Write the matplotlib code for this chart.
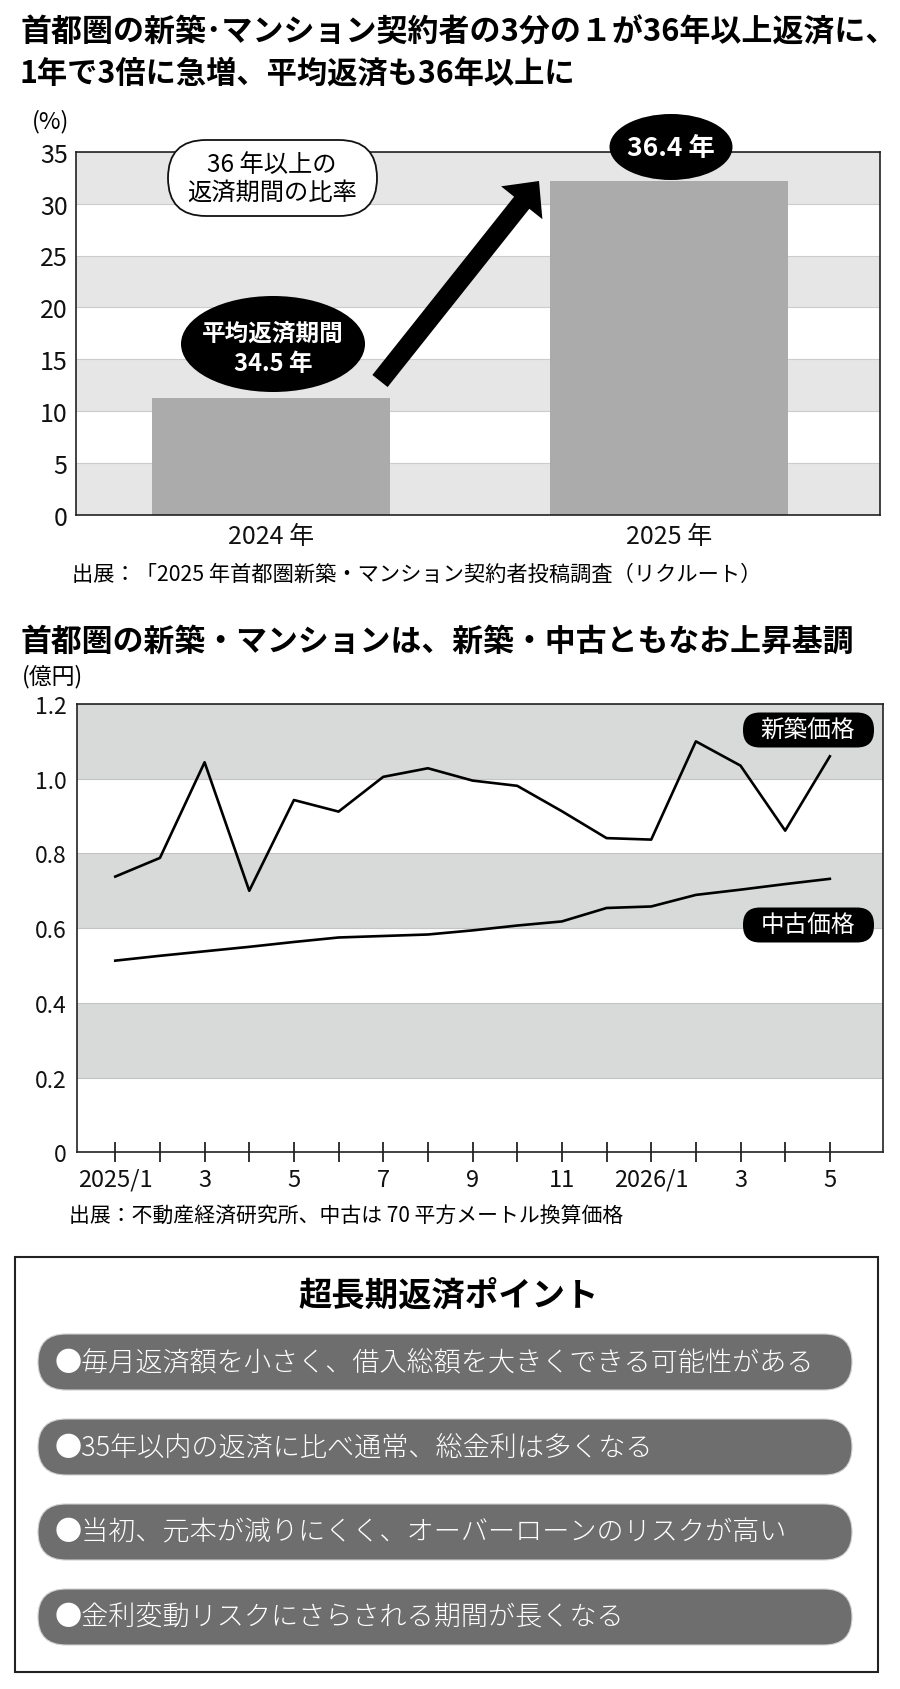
import matplotlib
matplotlib.use("Agg")
import matplotlib.pyplot as plt
from matplotlib.patches import Ellipse, FancyBboxPatch, FancyArrowPatch, Rectangle
from matplotlib.ticker import FuncFormatter

plt.rcParams['font.family'] = ['Noto Sans CJK JP', 'DejaVu Sans']

# --- data -------------------------------------------------------------
bar_years = ['2024 年', '2025 年']
bar_share = [11.3, 32.2]          # 36年以上の返済期間の比率 (%)
avg_years = [34.5, 36.4]          # 平均返済期間

months = list(range(1, 18))
month_labels = ['2025/1', '', '3', '', '5', '', '7', '', '9', '', '11', '',
                '2026/1', '', '3', '', '5']
new_price = [0.738, 0.788, 1.044, 0.700, 0.943, 0.912, 1.005, 1.028, 0.995,
             0.981, 0.913, 0.841, 0.837, 1.100, 1.035, 0.861, 1.060]
used_price = [0.513, 0.526, 0.538, 0.550, 0.563, 0.575, 0.579, 0.583, 0.594,
              0.607, 0.618, 0.654, 0.658, 0.689, 0.703, 0.718, 0.732]

points = ['●毎月返済額を小さく、借入総額を大きくできる可能性がある',
          '●35年以内の返済に比べ通常、総金利は多くなる',
          '●当初、元本が減りにくく、オーバーローンのリスクが高い',
          '●金利変動リスクにさらされる期間が長くなる']

W, H = 900, 1690
fig = plt.figure(figsize=(W / 100, H / 100), dpi=100)
fig.patch.set_facecolor('white')


def frac(left, top, right, bottom):
    return [left / W, 1 - bottom / H, (right - left) / W, (bottom - top) / H]


# --- bar chart ----------------------------------------------------------
ax1 = fig.add_axes(frac(76, 152.7, 880, 516))
for lo in range(0, 35, 10):
    ax1.axhspan(lo, lo + 5, color='#e6e6e6', zorder=0, lw=0)
ax1.set_axisbelow(True)
ax1.yaxis.grid(True, color='#cccccc', lw=0.8)
ax1.bar(range(len(bar_years)), bar_share, width=0.6, color='#aaabaa', zorder=2)
ax1.set_xlim(-0.49, 1.53)
ax1.set_ylim(0, 35)
ax1.set_yticks(range(0, 36, 5))
ax1.set_xticks(range(len(bar_years)))
ax1.set_xticklabels(bar_years)
ax1.tick_params(axis='both', length=0, labelsize=18, colors='#111111')
ax1.tick_params(axis='y', pad=6)
ax1.tick_params(axis='x', pad=6)
for s in ax1.spines.values():
    s.set_linewidth(1.2)
    s.set_color('#222222')

# --- line chart ---------------------------------------------------------
ax2 = fig.add_axes(frac(76.5, 705, 883, 1153.3))
for lo in [0.2, 0.6, 1.0]:
    ax2.axhspan(lo, lo + 0.2, color='#d8d9d9', zorder=0, lw=0)
ax2.set_axisbelow(True)
ax2.yaxis.grid(True, color='#c4c4c4', lw=0.8)
ax2.plot(months, new_price, color='black', lw=1.9, zorder=3)
ax2.plot(months, used_price, color='black', lw=1.9, zorder=3)
ax2.set_xlim(0.132, 18.19)
ax2.set_ylim(0, 1.2)
ax2.set_yticks([0, 0.2, 0.4, 0.6, 0.8, 1.0, 1.2])
ax2.yaxis.set_major_formatter(FuncFormatter(lambda v, p: '0' if v == 0 else f'{v:.1f}'))
ax2.set_xticks(months)
ax2.set_xticklabels(month_labels)
ax2.tick_params(axis='y', length=0, labelsize=16.5, pad=7, colors='#111111')
ax2.tick_params(axis='x', direction='inout', length=14, width=1.2, labelsize=17,
                pad=4, colors='#111111')
for s in ax2.spines.values():
    s.set_linewidth(1.2)
    s.set_color('#222222')

# --- overlay in pixel coordinates ----------------------------------------
ov = fig.add_axes([0, 0, 1, 1], zorder=10)
ov.set_xlim(0, W)
ov.set_ylim(H, 0)
ov.axis('off')
ov.patch.set_alpha(0)

ov.text(20, 33, '首都圏の新築･マンション契約者の3分の１が36年以上返済に、',
        fontsize=22.3, fontweight='bold', va='center', ha='left')
ov.text(20, 74, '1年で3倍に急増、平均返済も36年以上に',
        fontsize=21.8, fontweight='bold', va='center', ha='left')
ov.text(32, 122, '(%)', fontsize=17, va='center', ha='left')

# bubble label
ov.add_patch(FancyBboxPatch((168, 141), 209, 76, boxstyle='round,pad=0,rounding_size=38',
                            fc='white', ec='#111111', lw=1.3))
ov.text(272, 165, '36 年以上の', fontsize=17.5, ha='center', va='center')
ov.text(272, 193, '返済期間の比率', fontsize=17.5, ha='center', va='center')

# arrow
ov.add_patch(FancyArrowPatch((380, 382), (539, 182), shrinkA=0, shrinkB=0,
                             arrowstyle='simple,head_length=20,head_width=38,tail_width=14',
                             mutation_scale=1, fc='black', ec='black', lw=0))

# black ellipses with average years
ov.add_patch(Ellipse((273, 345), 184, 96, fc='black', ec='none'))
ov.text(273, 334, '平均返済期間', fontsize=17, fontweight='bold', color='white',
        ha='center', va='center')
ov.text(273, 364, f'{avg_years[0]} 年', fontsize=17, fontweight='bold', color='white',
        ha='center', va='center')
ov.add_patch(Ellipse((671, 148), 123, 66, fc='black', ec='none'))
ov.text(671, 148, f'{avg_years[1]} 年', fontsize=19, fontweight='bold', color='white',
        ha='center', va='center')

ov.text(72, 575, '出展：「2025 年首都圏新築・マンション契約者投稿調査（リクルート）',
        fontsize=15.3, ha='left', va='center')

ov.text(20, 642, '首都圏の新築・マンションは、新築・中古ともなお上昇基調',
        fontsize=22.2, fontweight='bold', va='center', ha='left')
ov.text(22, 677, '(億円)', fontsize=16.5, va='center', ha='left')

# series tags
for label, cy in [('新築価格', 731), ('中古価格', 926)]:
    ov.add_patch(FancyBboxPatch((743, cy - 17.5), 131, 35, boxstyle='round,pad=0,rounding_size=17',
                                fc='black', ec='none'))
    ov.text(808, cy, label, fontsize=17, color='white', ha='center', va='center')

ov.text(69, 1216, '出展：不動産経済研究所、中古は 70 平方メートル換算価格',
        fontsize=15, ha='left', va='center')

# points box
ov.add_patch(Rectangle((15, 1258), 863, 415, fc='white', ec='#222222', lw=1.5))
ov.text(449, 1296, '超長期返済ポイント', fontsize=24, fontweight='bold',
        ha='center', va='center')
for i, txt in enumerate(points):
    cy = 1363 + i * 85
    ov.add_patch(FancyBboxPatch((38, cy - 28), 814, 56, boxstyle='round,pad=0,rounding_size=28',
                                fc='#6e6e6e', ec='#d0d0d0', lw=0.8))
    ov.text(55, cy, txt, fontsize=19.5, fontweight='light', color='white',
            ha='left', va='center')

fig.savefig('out.png', dpi=100)
